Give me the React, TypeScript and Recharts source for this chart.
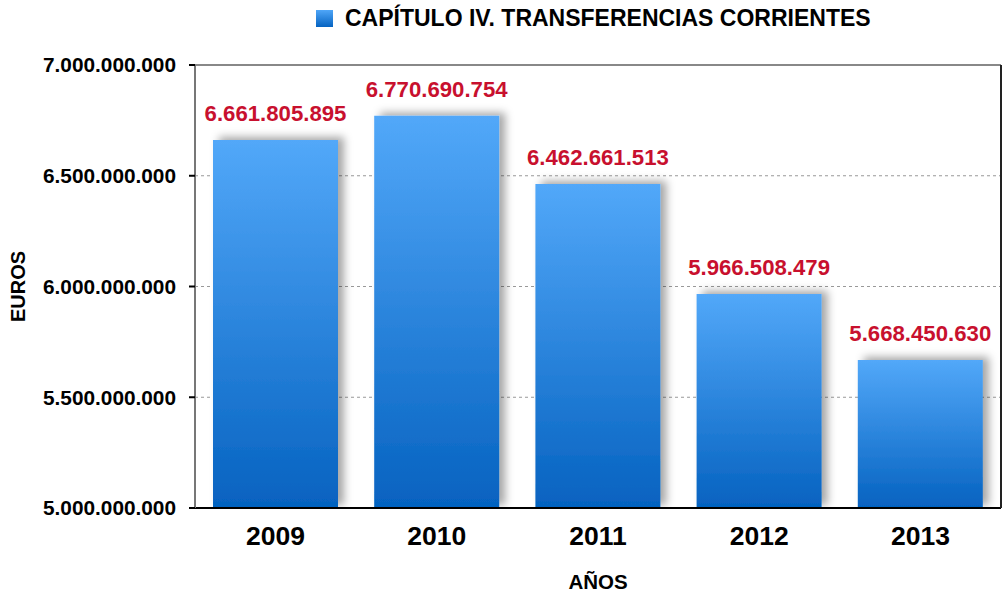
import { BarChart, Bar, XAxis, YAxis, CartesianGrid, LabelList, Label, ReferenceLine } from "recharts";

const years = ["2009", "2010", "2011", "2012", "2013"];
const euros = [6661805895, 6770690754, 6462661513, 5966508479, 5668450630];
const yTicks = [5000000000, 5500000000, 6000000000, 6500000000, 7000000000];

const seriesName = "CAPÍTULO IV. TRANSFERENCIAS CORRIENTES";

const data = years.map((year, i) => ({ year, value: euros[i] }));

const fmt = (v: number) => v.toLocaleString("de-DE");

const FONT = "'Liberation Sans', Arial, Helvetica, sans-serif";

const App = () => {
  return (
    <div style={{ position: "relative", width: 1003, height: 593, fontFamily: FONT }}>
      <style>{`body{margin:0}`}</style>
      <div
        style={{
          position: "absolute",
          top: 4,
          left: 316,
          display: "flex",
          alignItems: "center",
          fontWeight: "bold",
          fontSize: 23,
          lineHeight: "28px",
          color: "#000",
        }}
      >
        <span
          style={{
            display: "inline-block",
            width: 17,
            height: 17,
            marginRight: 12,
            background: "linear-gradient(#4fa6f8, #0563c1)",
          }}
        />
        {seriesName}
      </div>
      <BarChart
        width={1003}
        height={593}
        data={data}
        margin={{ top: 65, right: 0, bottom: 0, left: 0 }}
        barCategoryGap={18}
      >
        <defs>
          <linearGradient id="barFill" x1="0" y1="0" x2="0" y2="1">
            <stop offset="0%" stopColor="#52a8f9" />
            <stop offset="100%" stopColor="#0562c0" />
          </linearGradient>
          <filter id="barShadow" x="-20%" y="-20%" width="150%" height="150%">
            <feDropShadow dx="6" dy="-3" stdDeviation="4" floodColor="#000" floodOpacity="0.35" />
          </filter>
        </defs>
        <CartesianGrid vertical={false} stroke="#999" strokeDasharray="3 3" />
        <XAxis
          dataKey="year"
          height={85}
          axisLine={{ stroke: "#000", strokeWidth: 2 }}
          tickLine={false}
          tick={{ fill: "#000", fontSize: 26.5, fontWeight: "bold", fontFamily: FONT }}
          tickMargin={12}
        >
          <Label
            value="AÑOS"
            position="insideBottom"
            offset={4}
            style={{ fill: "#000", fontSize: 20.5, fontWeight: "bold", fontFamily: FONT }}
          />
        </XAxis>
        <YAxis
          width={195}
          domain={[5000000000, 7000000000]}
          ticks={yTicks}
          tickFormatter={fmt}
          interval={0}
          axisLine={{ stroke: "#777", strokeWidth: 2 }}
          tickLine={{ stroke: "#000", strokeWidth: 2 }}
          tickSize={6}
          tickMargin={13}
          tick={{ fill: "#000", fontSize: 20.8, fontWeight: "bold", fontFamily: FONT }}
          allowDataOverflow
        >
          <Label
            value="EUROS"
            angle={-90}
            position="insideLeft"
            offset={18}
            style={{ fill: "#000", fontSize: 20, fontWeight: "bold", fontFamily: FONT, textAnchor: "middle" }}
          />
        </YAxis>
        <YAxis
          yAxisId="right"
          orientation="right"
          width={2}
          tick={false}
          tickLine={false}
          axisLine={{ stroke: "#222", strokeWidth: 2 }}
        />
        <ReferenceLine y={7000000000} stroke="#888" strokeWidth={2} />
        <Bar
          dataKey="value"
          fill="url(#barFill)"
          filter="url(#barShadow)"
          isAnimationActive={false}
        >
          <LabelList
            dataKey="value"
            position="top"
            offset={19}
            formatter={(v: number) => fmt(v)}
            style={{ fill: "#c8102e", fontSize: 22.2, fontWeight: "bold", fontFamily: FONT }}
          />
        </Bar>
      </BarChart>
    </div>
  );
};

export default App;
